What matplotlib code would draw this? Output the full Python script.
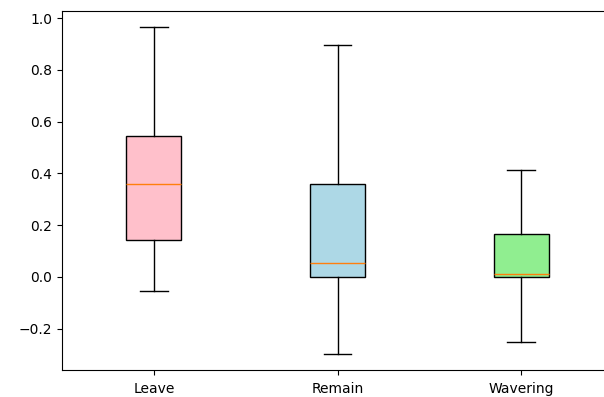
import matplotlib
matplotlib.use("Agg")
import matplotlib.pyplot as plt

categories = ["Leave", "Remain", "Wavering"]
whislo = [-0.056, -0.297, -0.25]
q1 = [0.142, 0.0, 0.0]
med = [0.359, 0.052, 0.01]
q3 = [0.546, 0.36, 0.165]
whishi = [0.965, 0.895, 0.414]
colors = ["pink", "lightblue", "lightgreen"]

stats = [dict(label=c, whislo=a, q1=b, med=m, q3=d, whishi=e, fliers=[])
         for c, a, b, m, d, e in zip(categories, whislo, q1, med, q3, whishi)]

fig = plt.figure(figsize=(6.04, 3.97), dpi=100)
ax = fig.add_axes([62/604, (397-370)/397, 551/604, (370-11)/397])
bp = ax.bxp(stats, widths=0.3, patch_artist=True, showfliers=False)
for patch, col in zip(bp["boxes"], colors):
    patch.set_facecolor(col)
    patch.set_edgecolor("black")
ax.spines["right"].set_visible(False)
ax.tick_params(axis="x", pad=5)
fig.savefig("out.png", dpi=100)
